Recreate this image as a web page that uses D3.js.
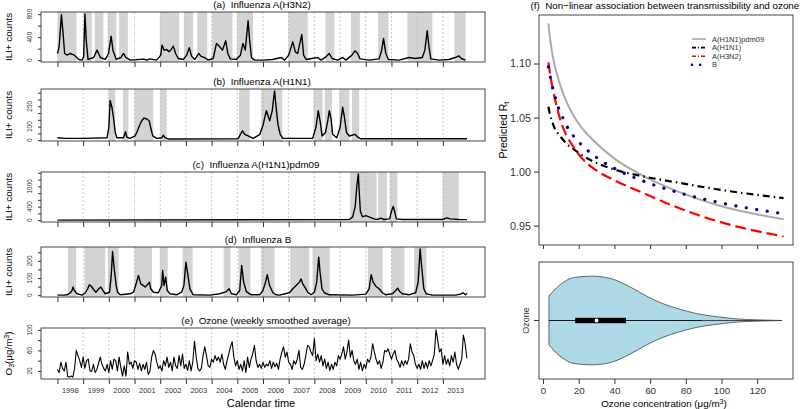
<!DOCTYPE html>
<html>
<head>
<meta charset="utf-8">
<script src="https://cdn.jsdelivr.net/npm/d3@7"></script>
<style>
  body { margin: 0; background: #fff; }
  svg { display: block; font-family: "Liberation Sans", Arial, sans-serif; }
</style>
</head>
<body>
<svg id="chart"></svg>
<script>
// ---------- data (time = years since 1 Jan 1998) ----------
const yearLabels = ["1998","1999","2000","2001","2002","2003","2004","2005",
                    "2006","2007","2008","2009","2010","2011","2012","2013"];

const h3n2 = [[0,116],[0.065,232],[0.155,790],[0.22,464],[0.28,116],[0.375,87],[0.5,116],[0.66,87],[0.83,12],[0.96,0],
  [1.02,58],[1.07,805],[1.12,348],[1.19,12],[1.41,46],[1.54,174],[1.67,46],[1.86,12],[1.99,116],[2.09,418],[2.16,174],
  [2.29,12],[2.47,46],[2.57,116],[2.67,46],[2.83,0],[3.35,17],[3.48,0],[3.6,23],[3.86,0],[4.02,87],[4.07,261],[4.15,174],
  [4.25,186],[4.34,145],[4.43,186],[4.51,244],[4.6,116],[4.7,29],[4.9,12],[5.03,87],[5.13,215],[5.22,70],[5.35,12],
  [5.5,116],[5.58,70],[5.74,41],[5.87,0],[6.06,29],[6.19,290],[6.32,232],[6.42,174],[6.55,336],[6.63,116],[6.73,23],
  [6.96,12],[7.12,87],[7.22,290],[7.31,174],[7.42,684],[7.48,348],[7.55,46],[7.67,0],[8.0,0],[8.38,12],[8.71,46],[8.84,0],
  [9.0,87],[9.16,319],[9.26,145],[9.35,116],[9.51,447],[9.58,87],[9.68,12],[10.13,46],[10.26,0],[10.45,58],[10.58,116],
  [10.69,29],[10.9,0],[11.1,46],[11.23,0],[11.46,87],[11.58,162],[11.68,116],[11.78,23],[12.13,0],[12.52,23],[12.62,174],
  [12.69,377],[12.78,116],[12.88,12],[13.29,0],[13.68,46],[13.94,29],[14.2,46],[14.3,174],[14.39,510],[14.46,232],
  [14.53,23],[14.85,0],[15.23,12],[15.49,46],[15.62,75],[15.72,29],[15.88,0]];
const h3n2Seasons = [[0,0.74],[1.02,1.34],[1.45,1.79],[1.95,2.29],[2.40,2.74],[3.99,4.73],[4.92,5.28],[5.44,5.83],
  [6.02,6.81],[6.99,7.61],[8.99,9.74],[10.43,10.78],[11.42,11.77],[12.48,12.88],[13.62,14.59],[15.45,15.88]];
const h3n2Ticks = [0,200,400,600,800];
const h3n2Labels = [0,400,800];

const h1n1 = [[0,18],[0.3,13],[1.0,13],[1.93,18],[2.0,93],[2.05,293],[2.12,243],[2.18,168],[2.25,56],[2.31,18],[2.57,18],
  [2.65,63],[2.7,23],[2.83,13],[3.02,31],[3.11,68],[3.19,106],[3.28,143],[3.37,163],[3.48,156],[3.57,143],[3.63,93],
  [3.71,31],[3.86,13],[4.06,18],[4.12,36],[4.19,18],[4.32,8],[7.03,10],[7.09,31],[7.2,68],[7.29,43],[7.42,31],[7.61,13],
  [7.87,40],[8.0,110],[8.13,218],[8.26,143],[8.36,218],[8.45,363],[8.51,243],[8.58,118],[8.67,43],[8.77,13],[9.93,13],
  [10.06,93],[10.15,218],[10.23,131],[10.3,31],[10.43,56],[10.52,143],[10.58,218],[10.65,156],[10.71,43],[10.87,18],
  [11.0,93],[11.1,243],[11.16,181],[11.25,56],[11.36,31],[11.58,43],[11.68,23],[11.81,10],[15.94,10]];
const h1n1Seasons = [[1.99,2.25],[2.55,2.76],[3.0,3.73],[4.0,4.25],[7.07,7.48],[7.93,8.75],[9.97,10.32],[10.4,10.69],
  [10.97,11.36],[11.46,11.74]];
const h1n1Ticks = [0,50,100,150,200,250,300,350];
const h1n1Labels = [0,100,250];

const pdm09 = [[0,0],[11.36,19],[11.49,97],[11.59,408],[11.65,991],[11.71,1370],[11.74,894],[11.79,262],[11.87,97],
  [12.0,136],[12.13,97],[12.32,39],[12.45,19],[12.58,58],[12.71,19],[12.93,39],[13.0,262],[13.07,408],[13.12,262],
  [13.19,39],[13.42,19],[14.97,19],[15.17,68],[15.29,39],[15.62,19],[15.94,15]];
const pdm09Seasons = [[11.39,12.42],[12.48,12.82],[12.93,13.23],[14.99,15.62]];
const pdm09Ticks = [0,200,400,600,800,1000,1200,1400];
const pdm09Labels = [0,400,1000];

const fluB = [[0,0],[0.245,0],[0.375,2],[0.504,14],[0.568,27],[0.607,47],[0.659,27],[0.762,8],[0.956,0],[1.085,14],
  [1.176,37],[1.24,60],[1.318,52],[1.408,33],[1.499,17],[1.602,37],[1.692,47],[1.77,27],[1.86,8],[2.028,17],[2.093,115],
  [2.145,255],[2.209,154],[2.287,56],[2.339,17],[2.442,2],[2.829,8],[2.959,17],[3.062,66],[3.152,115],[3.243,66],
  [3.346,56],[3.411,47],[3.501,60],[3.579,76],[3.63,37],[3.734,17],[3.928,14],[4.057,56],[4.096,144],[4.147,56],
  [4.212,105],[4.276,27],[4.38,8],[4.638,2],[4.832,17],[4.922,56],[5.0,192],[5.078,115],[5.155,37],[5.284,2],[5.93,0],
  [6.318,8],[6.576,21],[6.68,37],[6.77,8],[6.964,2],[7.093,27],[7.171,173],[7.248,76],[7.351,21],[7.545,2],[7.868,2],
  [7.997,27],[8.1,76],[8.165,119],[8.256,56],[8.385,14],[8.514,2],[8.643,0],[9.031,14],[9.16,37],[9.289,56],[9.419,76],
  [9.483,95],[9.548,66],[9.651,41],[9.742,17],[9.871,2],[10.0,17],[10.09,76],[10.168,222],[10.22,134],[10.297,37],
  [10.388,14],[10.581,2],[11.486,0],[12.0,6],[12.132,37],[12.209,119],[12.287,76],[12.39,52],[12.519,37],[12.649,14],
  [12.778,2],[13.036,8],[13.165,27],[13.243,41],[13.32,21],[13.424,8],[13.682,2],[13.94,14],[14.039,76],[14.116,270],
  [14.182,154],[14.259,37],[14.349,8],[14.59,0],[15.494,0],[15.687,6],[15.778,14],[15.881,2],[15.946,10]];
const fluBSeasons = [[0.41,0.73],[1.05,1.86],[1.96,2.38],[3.0,3.68],[3.99,4.29],[4.87,5.26],[6.47,6.74],[7.05,7.51],
  [7.93,8.45],[9.06,9.8],[9.93,10.6],[12.08,12.66],[13.0,13.5],[13.88,14.36]];
const fluBTicks = [0,50,100,150,200,250];
const fluBLabels = [0,100,200];

// ozone, one value every 1/15 year from Jan 1998
const ozone = [23,17,37,25,20,37,9,8,10,8, 25,60,50,40,27,47,25,40,43,20, 19,33,17,23,35,47,33,25,20,33,
  17,40,23,43,40,20,47,27,10,30, 10,57,33,37,25,40,37,23,35,20, 33,23,37,13,20,47,60,53,37,25,
  30,20,40,30,47,27,37,20,47,30, 25,50,30,53,25,33,21,40,20,37, 78,47,25,20,25,50,67,50,30,27,
  43,37,50,40,47,37,53,33,23,40, 53,67,77,47,30,40,23,33,20,40, 17,47,27,43,53,70,40,27,33,25,
  37,27,33,30,40,25,37,28,35,23, 43,57,67,47,57,37,33,23,40,33, 43,60,27,23,33,50,70,67,57,50,
  83,40,53,37,50,30,43,25,37,21, 33,23,37,30,50,43,53,67,43,57, 80,47,60,40,33,43,23,37,20,33,
  25,43,37,47,73,57,43,33,40,25, 37,60,57,63,53,43,53,60,43,37, 27,40,30,40,33,43,73,57,50,33,
  25,33,23,40,25,37,25,40,30,40, 53,100,80,57,63,33,50,33,43,30, 50,37,57,33,23,33,43,90,73,45];
const ozoneTicks = [20,40,60,80,100];
const ozoneLabels = [20,60,100];

// panel (f): predicted Rt by ozone concentration
const rtOzone = [3,4,5,6,8,10,13,17,22,30,40,55,75,100,134.8];
const rtPdm09 = [1.137,1.122,1.111,1.102,1.089,1.078,1.065,1.052,1.040,1.026,1.012,0.997,0.982,0.968,0.956];
const rtH1N1  = [1.060,1.052,1.047,1.042,1.036,1.032,1.026,1.021,1.015,1.008,1.002,0.996,0.990,0.983,0.9755];
const rtH3N2  = [1.101,1.090,1.080,1.072,1.058,1.046,1.034,1.023,1.012,1.001,0.992,0.981,0.967,0.953,0.940];
const rtB     = [1.097,1.088,1.080,1.074,1.062,1.054,1.043,1.033,1.024,1.013,1.003,0.992,0.981,0.971,0.961];
const rtTicks = [0.95,1.00,1.05,1.10];
const concTicks = [0,20,40,60,80,100,120];

// violin of ozone concentrations
const violinConc = [3.3,6.1,11.7,17.2,27.4,37.6,48.7,58,67.2,76.5,85.8,95,104.3,113.6,122.8,133.9];
const violinDens = [0.55,0.68,0.87,0.97,1.0,0.95,0.76,0.55,0.38,0.255,0.158,0.097,0.052,0.023,0.011,0];
const ozoneBox = {min: 3.3, q1: 18, median: 30, q3: 46.5, whiskerHi: 89};

// ---------- drawing ----------
const svg = d3.select("#chart").attr("width", 800).attr("height", 409);
const axisColor = "#333";

function rpad(ext) { const r = ext[1] - ext[0]; return [ext[0] - 0.04 * r, ext[1] + 0.04 * r]; }

const nYears = yearLabels.length;
const x = d3.scaleLinear().domain(rpad([0, nYears])).range([41, 485]);

const panels = [
  {title: "(a)  Influenza A(H3N2)", tx: 262, top: 12, bottom: 62, data: h3n2, seasons: h3n2Seasons, ticks: h3n2Ticks, labels: h3n2Labels},
  {title: "(b)  Influenza A(H1N1)", tx: 262, top: 89, bottom: 141, data: h1n1, seasons: h1n1Seasons, ticks: h1n1Ticks, labels: h1n1Labels},
  {title: "(c)  Influenza A(H1N1)pdm09", tx: 256, top: 172, bottom: 222, data: pdm09, seasons: pdm09Seasons, ticks: pdm09Ticks, labels: pdm09Labels},
  {title: "(d)  Influenza B", tx: 258, top: 247, bottom: 297, data: fluB, seasons: fluBSeasons, ticks: fluBTicks, labels: fluBLabels},
  {title: "(e)  Ozone (weekly smoothed average)", tx: 266, top: 328, bottom: 379,
   data: ozone.map((v, i) => [i / 15, v]), seasons: [], ticks: ozoneTicks, labels: ozoneLabels, lw: 1.1, isOzone: true}
];

panels.forEach(p => {
  const g = svg.append("g");
  const y = d3.scaleLinear().domain(rpad(d3.extent(p.data, d => d[1]))).range([p.bottom, p.top]);

  // epidemic periods
  g.selectAll("rect.season").data(p.seasons).join("rect")
    .attr("x", d => x(d[0]))
    .attr("width", d => x(d[1]) - x(d[0]))
    .attr("y", p.top)
    .attr("height", p.bottom - p.top)
    .attr("fill", "#d3d3d3");

  // year boundaries
  g.selectAll("line.yr").data(d3.range(1, nYears)).join("line")
    .attr("x1", d => x(d)).attr("x2", d => x(d))
    .attr("y1", p.top).attr("y2", p.bottom)
    .attr("stroke", "#8fd88f").attr("stroke-width", 0.8)
    .attr("stroke-dasharray", "2,2");

  g.append("path").datum(p.data)
    .attr("d", d3.line().x(d => x(d[0])).y(d => y(d[1])))
    .attr("fill", "none").attr("stroke", "#000")
    .attr("stroke-width", p.lw || 1.4).attr("stroke-linejoin", "round");

  g.append("rect")
    .attr("x", 41).attr("y", p.top).attr("width", 444).attr("height", p.bottom - p.top)
    .attr("fill", "none").attr("stroke", axisColor).attr("stroke-width", 0.9);

  g.append("g").attr("transform", `translate(0,${p.bottom})`).attr("color", axisColor)
    .call(d3.axisBottom(x).tickValues(d3.range(0, nYears)).tickFormat("").tickSize(5).tickSizeOuter(0))
    .call(a => a.select(".domain").remove());

  g.append("g").attr("transform", "translate(41,0)").attr("color", axisColor)
    .call(d3.axisLeft(y).tickValues(p.ticks).tickFormat("").tickSize(3).tickSizeOuter(0))
    .call(a => a.select(".domain").remove());

  g.selectAll("text.ylab").data(p.labels).join("text")
    .attr("transform", d => `translate(32,${y(d)}) rotate(-90)`)
    .attr("text-anchor", "middle").attr("font-size", 6.5).attr("fill", "#333")
    .text(d => d);

  g.append("text").attr("x", p.tx).attr("y", p.top - 4)
    .attr("text-anchor", "middle").attr("font-size", 9.8).style("white-space", "pre")
    .text(p.title);

  const cy = (p.top + p.bottom) / 2;
  if (!p.isOzone) {
    g.append("text").attr("transform", `translate(12,${cy}) rotate(-90)`)
      .attr("text-anchor", "middle").attr("font-size", 9.8).text("ILI+ counts");
  } else {
    const t = g.append("text").attr("transform", `translate(12,${cy}) rotate(-90)`)
      .attr("text-anchor", "middle").attr("font-size", 9.8);
    t.append("tspan").text("O");
    t.append("tspan").attr("font-size", 7).attr("baseline-shift", "-25%").text("3");
    t.append("tspan").text("(μg/m");
    t.append("tspan").attr("font-size", 7).attr("baseline-shift", "40%").text("3");
    t.append("tspan").text(")");
  }
});

// year labels and x title
svg.append("g").selectAll("text").data(yearLabels).join("text")
  .attr("x", (d, i) => x(i + 0.5)).attr("y", 393)
  .attr("text-anchor", "middle").attr("font-size", 7.5).attr("fill", "#333")
  .text(d => d);
svg.append("text").attr("x", 261).attr("y", 407).attr("text-anchor", "middle")
  .attr("font-size", 11).text("Calendar time");

// ---------- panel (f) ----------
const fL = 539, fR = 793, fT = 15, fB = 245;
const xR = d3.scaleLinear().domain(rpad(d3.extent(rtOzone))).range([fL, fR]);
const allRt = rtPdm09.concat(rtH1N1, rtH3N2, rtB);
const yR = d3.scaleLinear().domain(rpad(d3.extent(allRt))).range([fB, fT]);

const fg = svg.append("g");
fg.append("rect").attr("x", fL).attr("y", fT).attr("width", fR - fL).attr("height", fB - fT)
  .attr("fill", "none").attr("stroke", axisColor).attr("stroke-width", 0.9);

const curves = [
  {name: "A(H1N1)pdm09", vals: rtPdm09, color: "#aaaaaa", dash: null, w: 2},
  {name: "A(H1N1)", vals: rtH1N1, color: "#000000", dash: "7,4,1.5,4", w: 2.2},
  {name: "A(H3N2)", vals: rtH3N2, color: "#ff0000", dash: "11,5", w: 2.2},
  {name: "B", vals: rtB, color: "#00008b", dash: "0.1,10.5", w: 3.2}
];
const rtLine = d3.line().curve(d3.curveMonotoneX).x(d => xR(d[0])).y(d => yR(d[1]));
curves.forEach(c => {
  fg.append("path").datum(rtOzone.map((o, i) => [o, c.vals[i]]))
    .attr("d", rtLine).attr("fill", "none")
    .attr("stroke", c.color).attr("stroke-width", c.w)
    .attr("stroke-dasharray", c.dash).attr("stroke-linecap", c.name === "B" ? "round" : "butt");
});

// legend
const leg = fg.append("g").attr("transform", "translate(692,39)");
curves.forEach((c, i) => {
  const row = leg.append("g").attr("transform", `translate(0,${i * 8.6})`);
  row.append("line").attr("x1", 0).attr("x2", 14).attr("y1", 0).attr("y2", 0)
    .attr("stroke", c.color).attr("stroke-width", c.name === "B" ? 2.6 : 1.6)
    .attr("stroke-dasharray", c.name === "B" ? "0.1,8" : (c.dash ? "4,2,1,2" : null))
    .attr("stroke-linecap", c.name === "B" ? "round" : "butt");
  row.append("text").attr("x", 20).attr("y", 0).attr("dy", "0.35em")
    .attr("font-size", 7.5).attr("fill", "#333").text(c.name);
});

fg.append("g").attr("transform", `translate(${fL},0)`).attr("color", axisColor)
  .call(d3.axisLeft(yR).tickValues(rtTicks).tickFormat(d3.format(".2f")).tickSize(5).tickPadding(3).tickSizeOuter(0))
  .call(a => a.select(".domain").remove())
  .call(a => a.selectAll("text").attr("font-size", 10.8).attr("font-family", null).attr("fill", "#333"));
fg.append("g").attr("transform", `translate(0,${fB})`).attr("color", axisColor)
  .call(d3.axisBottom(xR).tickValues(concTicks).tickFormat("").tickSize(4).tickSizeOuter(0))
  .call(a => a.select(".domain").remove());

const rtLab = fg.append("text").attr("transform", "translate(507,130) rotate(-90)")
  .attr("text-anchor", "middle").attr("font-size", 10.5);
rtLab.append("tspan").text("Predicted R");
rtLab.append("tspan").attr("font-size", 7.5).attr("baseline-shift", "-25%").text("t");

svg.append("text").attr("x", 530.5).attr("y", 9).attr("font-size", 9.8).style("white-space", "pre")
  .text("(f)  Non\u2212linear association between transmissibility and ozone");

// ---------- violin ----------
const vT = 262, vB = 379;
const vg = svg.append("g");
const yV = d3.scaleLinear().domain([-1.32, 1.32]).range([vB, vT]);
const vdata = violinConc.map((c, i) => [c, violinDens[i]]);
vg.append("path").datum(vdata)
  .attr("d", d3.area().curve(d3.curveMonotoneX).x(d => xR(d[0])).y0(d => yV(-d[1])).y1(d => yV(d[1])))
  .attr("fill", "#add8e6").attr("stroke", "#555").attr("stroke-width", 0.9);
vg.append("line").attr("x1", xR(ozoneBox.min)).attr("x2", xR(ozoneBox.whiskerHi))
  .attr("y1", yV(0)).attr("y2", yV(0)).attr("stroke", "#000").attr("stroke-width", 0.9);
vg.append("line").attr("x1", xR(ozoneBox.whiskerHi)).attr("x2", xR(violinConc[violinConc.length - 1]))
  .attr("y1", yV(0)).attr("y2", yV(0)).attr("stroke", "#444").attr("stroke-width", 1.2);
vg.append("rect").attr("x", xR(ozoneBox.q1)).attr("width", xR(ozoneBox.q3) - xR(ozoneBox.q1))
  .attr("y", yV(0) - 2.7).attr("height", 5.4).attr("fill", "#000");
vg.append("circle").attr("cx", xR(ozoneBox.median)).attr("cy", yV(0)).attr("r", 1.9).attr("fill", "#fff");

vg.append("rect").attr("x", fL).attr("y", vT).attr("width", fR - fL).attr("height", vB - vT)
  .attr("fill", "none").attr("stroke", axisColor).attr("stroke-width", 0.9);
vg.append("g").attr("transform", `translate(0,${vB})`).attr("color", axisColor)
  .call(d3.axisBottom(xR).tickValues(concTicks).tickSize(5).tickPadding(3).tickSizeOuter(0))
  .call(a => a.select(".domain").remove())
  .call(a => a.selectAll("text").attr("font-size", 9.8).attr("font-family", null).attr("fill", "#333"));
vg.append("line").attr("x1", fL - 5).attr("x2", fL).attr("y1", yV(0)).attr("y2", yV(0)).attr("stroke", axisColor);
vg.append("text").attr("transform", `translate(529,${yV(0)}) rotate(-90)`)
  .attr("text-anchor", "middle").attr("font-size", 9).attr("fill", "#333").text("Ozone");

const xl = vg.append("text").attr("x", 664).attr("y", 407).attr("text-anchor", "middle").attr("font-size", 9.8);
xl.append("tspan").text("Ozone concentration (μg/m");
xl.append("tspan").attr("font-size", 7).attr("baseline-shift", "40%").text("3");
xl.append("tspan").text(")");
</script>
</body>
</html>
